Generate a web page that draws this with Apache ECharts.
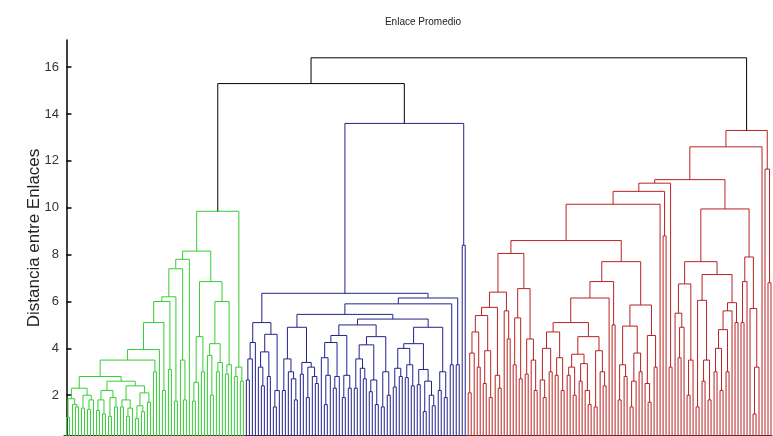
<!DOCTYPE html>
<html>
<head>
<meta charset="utf-8">
<script src="https://cdn.jsdelivr.net/npm/echarts@6/dist/echarts.min.js"></script>
<style>html,body{margin:0;padding:0;background:#fff}#c{width:773px;height:436px}</style>
</head>
<body>
<div id="c"></div>
<script>
// ---------------- DATA ----------------
// Trees are nested [left, right, mergeHeight]; a leaf is 0.
const titleText = 'Enlace Promedio';
const yAxisName = 'Distancia entre Enlaces';
const yTicks = [2, 4, 6, 8, 10, 12, 14, 16];
const rootHeights = [15.3, 16.4];

// green cluster
const greenLow = [
  [[[0,0,1.05],[0,[0,0,1.5],1.6],1.85],[[0,0,1.45],[[0,0,1.4],0,1.8],2.0],2.3],
  [[[[0,0,1.35],[0,0,1.2],1.8],[[0,0,1.1],[0,0,1.5],1.9],2.2],
   [[[0,0,1.5],[[0,0,1.1],0,1.45],1.8],[[[0,0,1.0],[0,0,1.3],1.55],[0,0,1.7],2.1],2.4],2.6],
  2.8];
const greenChain = [[[[[[[greenLow,[0,0,3.0],3.5],0,3.95],[0,0,2.2],5.1],[0,0,3.1],6.0],[0,0,1.75],6.2],[0,[0,0,1.8],3.5],7.4],0,7.8];
const greenRight = [[[[0,0,1.75],0,2.55],[0,0,3.0],4.5],
  [[[0,[0,0,2.0],3.7],[[0,0,3.0],0,3.4],4.2],[[0,0,2.9],0,3.3],6.0],6.85];
const greenTail = [[0,0,2.8],[0,0,2.6],3.2];
const greenTree = [[greenChain, greenRight, 8.15], greenTail, 9.85];

// blue cluster
const blueBL = [[[[0,0,2.65],0,3.55],0,4.25],[[[0,[0,0,2.4],3.2],[0,0,2.8],3.85],[[0,0,1.5],0,2.2],4.6],5.1];
const blueBA = [[[0,0,2.2],[0,[0,[0,0,1.8],2.7],3.0],3.55],[[0,0,2.9],[[0,0,1.9],[0,[0,0,2.5],2.8],3.2],3.4],4.9];
const blueX1 = [[[0,[[0,0,1.6],0,2.85],3.6],[[0,0,2.3],0,2.8],4.25],[[0,0,1.9],[0,0,2.3],2.85],4.55];
const blueX2 = [[[[0,0,2.3],[0,[0,0,2.7],3.15],3.55],[[0,0,2.15],[0,0,1.6],2.65],4.15],[[0,0,1.5],[0,0,2.0],3.0],4.5];
const blueY1 = [[[[0,0,2.35],[0,0,2.8],3.15],[[0,0,2.75],[0,0,2.4],3.3],4.0],[[0,0,2.45],[[0,0,1.3],[0,[0,0,1.55],2.0],2.6],3.1],4.2];
const blueY2 = [[0,0,2.2],[0,0,1.9],3.0];
const blueBB = [[blueX1, blueX2, 5.0], [blueY1, blueY2, 4.9], 5.25];
const blueTree = [[blueBL, [[[blueBA, blueBB, 5.45], [0,0,3.3], 5.9], [0,0,3.3], 6.15], 6.35], [0,0,8.4], 13.6];

// red cluster
const redAL = [[[[[[0,0,2.1],0,3.8],[0,0,3.2],4.7],[[0,0,2.5],[0,0,1.9],3.9],5.4],[0,[0,0,2.3],2.85],5.75],[0,[0,0,4.4],5.6],6.4];
const redAR = [[[0,0,3.3],[0,0,2.7],5.3],[[0,0,2.9],[0,[0,0,2.2],3.5],4.4],6.55];
const redB1 = [[[0,[0,0,1.9],2.65],[0,0,3.0],4.0],[[0,0,2.85],[0,0,2.2],3.6],4.7];
const redB2 = [[[[0,0,2.85],[0,0,2.0],3.2],[[0,0,2.6],[0,[0,0,1.6],2.2],3.35],3.75],[[0,0,1.5],[0,[0,0,2.4],3.0],3.9],4.5];
const redBR = [[[[0,0,1.8],[0,0,2.8],3.3],[[[0,0,1.5],0,2.6],[0,0,3.0],3.8],4.95],[[0,[0,0,1.7],2.5],[0,0,3.2],4.55],5.85];
const redBL = [[[redB1, redB2, 5.1], 0, 6.15], [0,0,5.0], 6.85];
const redLeft = [[[[[redAL, redAR, 8.05], [redBL, redBR, 7.7], 8.6], 0, 10.15], [0,0,8.8], 10.7], [0,0,3.2], 11.05];
const redM1 = [0,[[0,0,3.6],0,4.9],5.5];
const redM2 = [[0,0,2.0],0,3.5];
const redM3 = [[0,0,1.5],[[0,0,2.6],[0,0,1.8],3.5],6.05];
const redM4 = [[[[[0,0,3.0],[0,0,2.2],4.0],[0,0,3.0],4.8],0,5.6],[0,0,5.1],5.95];
const redMid = [[[redM1, redM2, 6.75], [redM3, redM4, 7.15], 7.7], [[[0,0,5.1],0,6.85],[0,[[0,0,1.2],0,3.2],5.7],7.9], 9.95];
const redTree = [[[redLeft, redMid, 11.2], 0, 12.6], [0,[0,0,6.8],11.65], 13.3];

// ---------------- LAYOUT ----------------
const links = {black: [], green: [], blue: [], red: []};
let leafCount = 0;
function lay(node, key) {
  if (node === 0) return {x: leafCount++, h: 0};
  const a = lay(node[0], key), b = lay(node[1], key);
  links[key].push([a.x, a.h, b.x, b.h, node[2]]);
  return {x: (a.x + b.x) / 2, h: node[2]};
}
const g = lay(greenTree, 'green');
const b = lay(blueTree, 'blue');
links.black.push([g.x, g.h, b.x, b.h, rootHeights[0]]);
const gb = {x: (g.x + b.x) / 2, h: rootHeights[0]};
const r = lay(redTree, 'red');
links.black.push([gb.x, gb.h, r.x, r.h, rootHeights[1]]);

const colors = {black: '#000000', green: '#34cf34', blue: '#22228c', red: '#b82222'};
const FONT = "'Liberation Sans', Arial, sans-serif";

function series(key) {
  return {
    type: 'custom',
    silent: true,
    clip: false,
    data: links[key],
    encode: {x: [0, 2], y: [1, 3, 4]},
    renderItem: function (params, api) {
      const x1 = api.value(0), h1 = api.value(1), x2 = api.value(2), h2 = api.value(3), h = api.value(4);
      return {
        type: 'polyline',
        shape: {points: [api.coord([x1, h1]), api.coord([x1, h]), api.coord([x2, h]), api.coord([x2, h2])]},
        style: {stroke: colors[key], fill: null, lineWidth: 1}
      };
    }
  };
}

const chart = echarts.init(document.getElementById('c'), null, {renderer: 'canvas'});
chart.setOption({
  animation: false,
  backgroundColor: '#ffffff',
  title: {
    text: titleText, left: 418, top: 12, textAlign: 'center',
    textStyle: {fontFamily: FONT, fontSize: 10, fontWeight: 'normal', color: '#222'}
  },
  grid: {left: 64, top: 40, width: 708, height: 396, containLabel: false},
  xAxis: {
    type: 'value', min: -0.83, max: leafCount - 1 + 0.33, offset: -1,
    axisLine: {show: true, lineStyle: {color: '#333', width: 1}},
    axisTick: {show: false}, axisLabel: {show: false}, splitLine: {show: false}
  },
  yAxis: {
    type: 'value', min: 0.26, max: 17.16,
    name: yAxisName, nameLocation: 'middle', nameRotate: 90, nameGap: 21, nameMoveOverlap: false,
    nameTextStyle: {fontFamily: FONT, fontSize: 17, color: '#222'},
    axisLine: {show: true, lineStyle: {color: '#000', width: 1.5}},
    axisTick: {show: true, inside: true, length: 5, customValues: yTicks, lineStyle: {color: '#000', width: 1.5}},
    axisLabel: {customValues: yTicks, fontFamily: FONT, fontSize: 13, color: '#333', margin: 5},
    splitLine: {show: false}
  },
  series: [series('green'), series('blue'), series('red'), series('black')]
});
</script>
</body>
</html>
